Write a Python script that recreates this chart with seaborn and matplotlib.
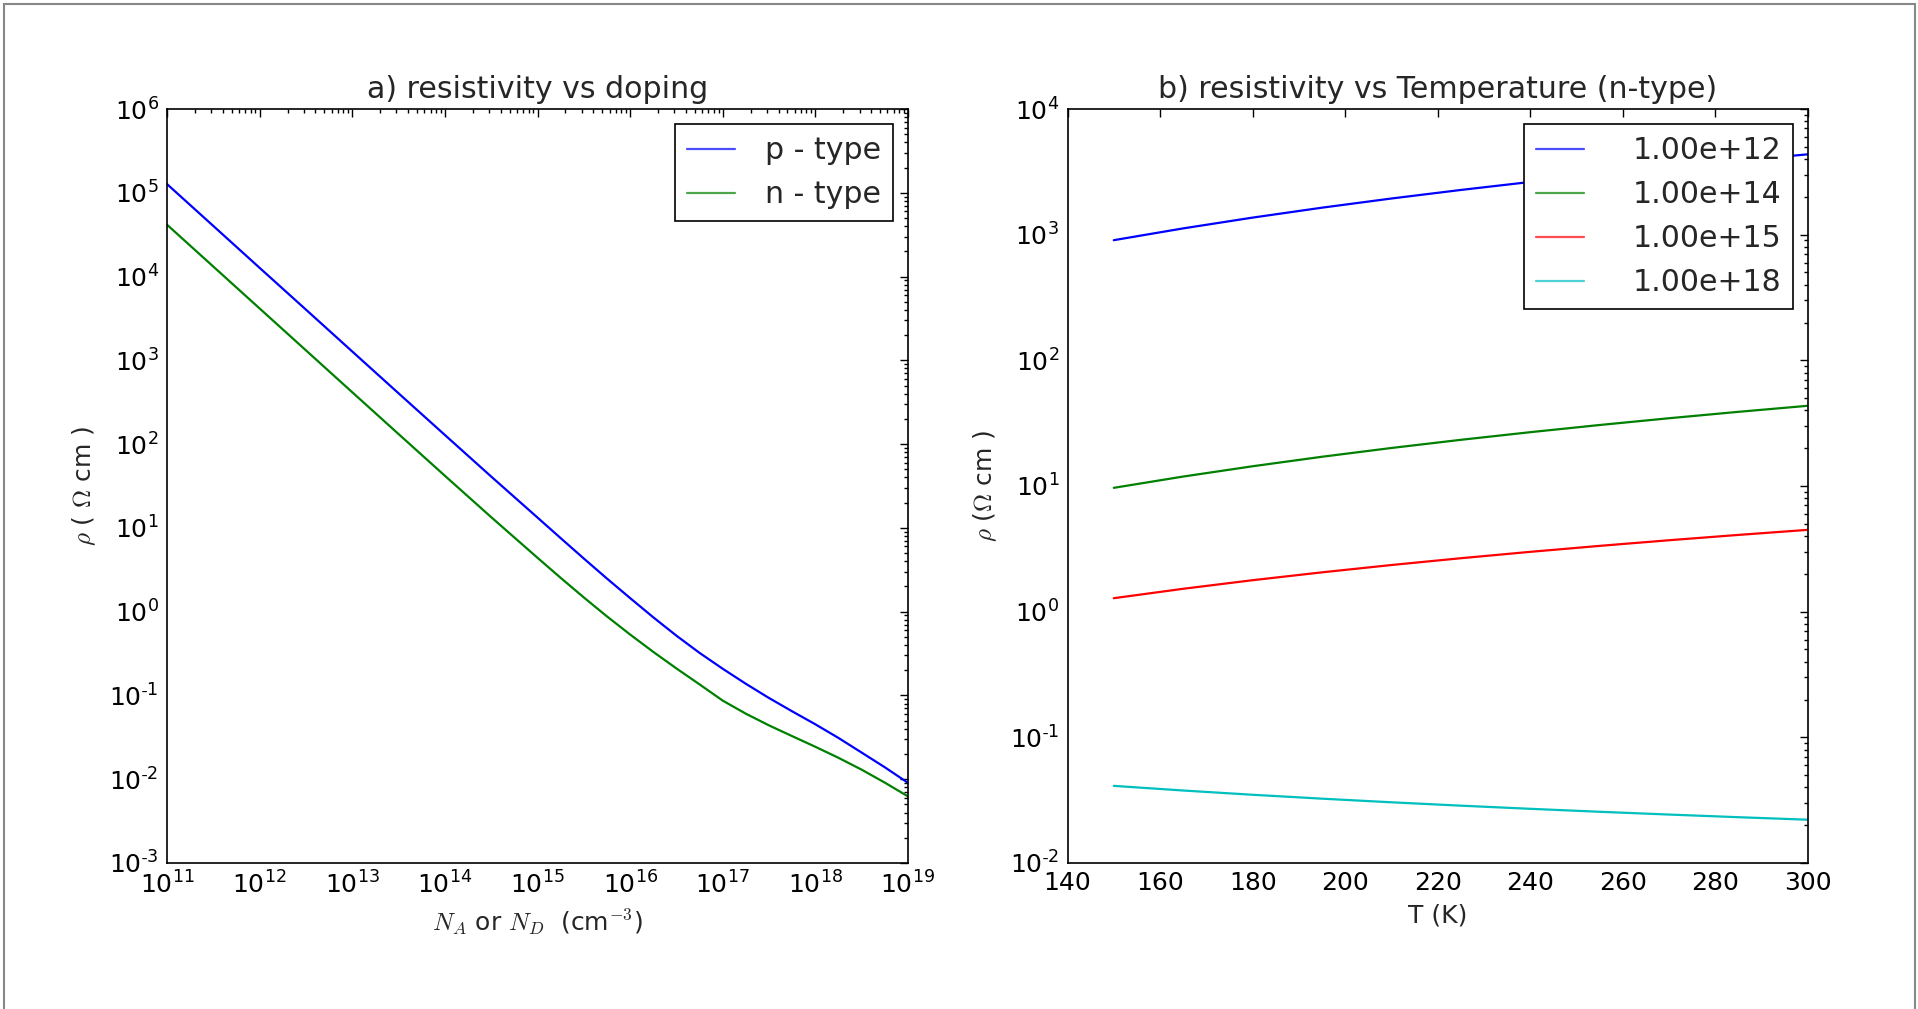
import numpy as np
import pandas as pd
import matplotlib
matplotlib.use("Agg")
import matplotlib.pyplot as plt
from matplotlib.patches import Rectangle
from matplotlib.ticker import LogLocator, FixedLocator, FuncFormatter
import seaborn as sns

# ---------------- data ----------------
doping = [1e11, 3.162e11, 1e12, 3.162e12, 1e13, 3.162e13, 1e14, 3.162e14,
          1e15, 1.778e15, 3.162e15, 5.623e15, 1e16, 1.778e16, 3.162e16, 5.623e16,
          1e17, 1.778e17, 3.162e17, 5.623e17, 1e18, 1.778e18, 3.162e18, 5.623e18, 1e19]
rho_p = [1.27e5, 4.02e4, 1.27e4, 4.03e3, 1.275e3, 404.0, 128.5, 41.0,
         13.28, 7.549, 4.310, 2.483, 1.452, 0.8561, 0.5167, 0.3218,
         0.2081, 0.1376, 0.0931, 0.06455, 0.04523, 0.03106, 0.02078, 0.01388, 0.00905]
rho_n = [4.16e4, 1.316e4, 4.16e3, 1.316e3, 416.0, 131.8, 41.9, 13.43,
         4.396, 2.534, 1.4786, 0.8776, 0.5335, 0.3311, 0.2100, 0.1354,
         0.0867, 0.0605, 0.04387, 0.03265, 0.02438, 0.0180, 0.01299, 0.0091, 0.00624]

temps = [150, 165, 180, 195, 210, 225, 240, 255, 270, 285, 300]
rho_1e12 = [904, 1122, 1367, 1640, 1940, 2269, 2627, 3015, 3433, 3881, 4360]
rho_1e14 = [9.67, 11.89, 14.36, 17.09, 20.07, 23.31, 26.81, 30.58, 34.62, 38.93, 43.5]
rho_1e15 = [1.28, 1.521, 1.780, 2.056, 2.351, 2.663, 2.993, 3.339, 3.702, 4.082, 4.479]
rho_1e18 = [0.0411, 0.03774, 0.03491, 0.0325, 0.03041, 0.02859, 0.02699,
            0.02556, 0.02429, 0.02314, 0.0221]

doping_labels = ["p - type", "n - type"]
temp_labels = ["1.00e+12", "1.00e+14", "1.00e+15", "1.00e+18"]
temp_xticks = [140, 160, 180, 200, 220, 240, 260, 280, 300]

# ---------------- style ----------------
sns.set_style("white")
plt.rcParams.update({
    "font.family": ["DejaVu Sans"],
    "font.size": 18,
    "mathtext.fontset": "cm",
    "mathtext.default": "it",
    "axes.unicode_minus": False,
    "xtick.direction": "in",
    "ytick.direction": "in",
    "xtick.top": True,
    "ytick.right": True,
    "xtick.major.size": 6,
    "ytick.major.size": 6,
    "xtick.minor.size": 3,
    "ytick.minor.size": 3,
    "xtick.major.width": 1.0,
    "ytick.major.width": 1.0,
    "xtick.minor.width": 1.0,
    "ytick.minor.width": 1.0,
    "xtick.major.pad": 6,
    "ytick.major.pad": 6,
    "xtick.labelsize": 18,
    "ytick.labelsize": 18,
    "axes.linewidth": 1.2,
    "axes.edgecolor": "black",
    "xtick.color": "black",
    "ytick.color": "black",
})


def log_fmt(v, pos):
    if v <= 0:
        return ""
    e = int(round(np.log10(v)))
    if e < 0:
        return r"$\mathdefault{10^{\text{-}%d}}$" % (-e)
    return r"$\mathdefault{10^{%d}}$" % e


fig = plt.figure(figsize=(19.18, 10.09), dpi=100)
fig.patch.set_facecolor("white")
fig.patches.append(Rectangle((4 / 1918, -0.02), 1911 / 1918, 1 - 4 / 1009 + 0.02,
                             transform=fig.transFigure, fill=False,
                             edgecolor="#888888", linewidth=1.5, zorder=0))

ax1 = fig.add_axes([0.08707, 0.1447, 0.38634, 0.74727])
ax2 = fig.add_axes([0.55657, 0.1447, 0.38608, 0.74727])

# ---------------- panel a ----------------
df_a = pd.DataFrame({
    "N": doping + doping,
    "rho": rho_p + rho_n,
    "type": [doping_labels[0]] * len(doping) + [doping_labels[1]] * len(doping),
})
ax1.set_xscale("log")
ax1.set_yscale("log")
sns.lineplot(data=df_a, x="N", y="rho", hue="type", hue_order=doping_labels,
             palette={doping_labels[0]: (0, 0, 1), doping_labels[1]: (0, 0.5, 0)},
             estimator=None, linewidth=1.6, ax=ax1, legend=True)
ax1.set_xlim(1e11, 1e19)
ax1.set_ylim(1e-3, 1e6)
ax1.xaxis.set_major_locator(LogLocator(base=10, numticks=20))
ax1.yaxis.set_major_locator(LogLocator(base=10, numticks=20))
ax1.xaxis.set_minor_locator(LogLocator(base=10, subs=np.arange(2, 10), numticks=20))
ax1.yaxis.set_minor_locator(LogLocator(base=10, subs=np.arange(2, 10), numticks=20))
ax1.yaxis.set_major_formatter(FuncFormatter(log_fmt))
ax1.set_title("a) resistivity vs doping", fontsize=21.6, pad=8)
ax1.set_xlabel(r"$N_A$ or $N_D$  (cm$^{-3}$)", fontsize=18, labelpad=6)
ax1.set_ylabel(r"$\rho$ ( $\Omega$ cm )", fontsize=18, labelpad=8)
h, l = ax1.get_legend_handles_labels()
leg1 = ax1.legend(h, l, loc="upper right", fontsize=21.6, fancybox=False,
                  framealpha=1, edgecolor="black", handlelength=1.6,
                  handletextpad=1.0, borderpad=0.4, labelspacing=0.5,
                  borderaxespad=0.5)
leg1.get_frame().set_linewidth(1.2)
for line in leg1.get_lines():
    line.set_alpha(0.7)

# ---------------- panel b ----------------
df_b = pd.DataFrame({
    "T": temps * 4,
    "rho": rho_1e12 + rho_1e14 + rho_1e15 + rho_1e18,
    "N": sum([[lab] * len(temps) for lab in temp_labels], []),
})
ax2.set_yscale("log")
sns.lineplot(data=df_b, x="T", y="rho", hue="N", hue_order=temp_labels,
             palette={temp_labels[0]: (0, 0, 1), temp_labels[1]: (0, 0.5, 0),
                      temp_labels[2]: (1, 0, 0), temp_labels[3]: (0, 0.75, 0.75)},
             estimator=None, linewidth=1.6, ax=ax2, legend=True)
ax2.set_xlim(140, 300)
ax2.set_ylim(1e-2, 1e4)
ax2.xaxis.set_major_locator(FixedLocator(temp_xticks))
ax2.yaxis.set_major_locator(LogLocator(base=10, numticks=20))
ax2.yaxis.set_minor_locator(LogLocator(base=10, subs=np.arange(2, 10), numticks=20))
ax2.yaxis.set_major_formatter(FuncFormatter(log_fmt))
ax2.set_title("b) resistivity vs Temperature (n-type)", fontsize=21.6, pad=8)
ax2.set_xlabel("T (K)", fontsize=18, labelpad=6)
ax2.set_ylabel(r"$\rho$ ($\Omega$ cm )", fontsize=18, labelpad=8)
h, l = ax2.get_legend_handles_labels()
leg2 = ax2.legend(h, l, loc="upper right", fontsize=21.6, fancybox=False,
                  framealpha=1, edgecolor="black", handlelength=1.6,
                  handletextpad=1.6, borderpad=0.4, labelspacing=0.5,
                  borderaxespad=0.5)
leg2.get_frame().set_linewidth(1.2)
for line in leg2.get_lines():
    line.set_alpha(0.7)

for ax in (ax1, ax2):
    for s in ax.spines.values():
        s.set_visible(True)
        s.set_color("black")
    ax.tick_params(which="both", direction="in", top=True, right=True)

fig.savefig("out.png", dpi=100, facecolor="white")
